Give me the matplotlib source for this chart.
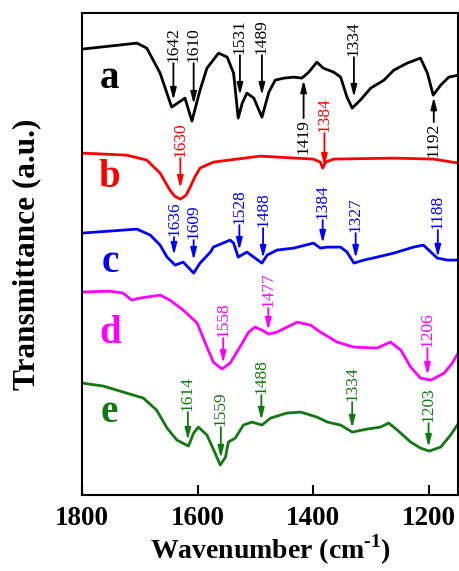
import matplotlib
matplotlib.use("Agg")
import matplotlib.pyplot as plt

plt.rcParams['font.family'] = ['Liberation Serif', 'DejaVu Serif']
plt.rcParams['mathtext.fontset'] = 'custom'
plt.rcParams['mathtext.rm'] = 'Liberation Serif:bold'
plt.rcParams['mathtext.bf'] = 'Liberation Serif:bold'

# wavenumber (cm-1) and transmittance (a.u., curves stacked with offsets)
wn_a = [1800, 1705, 1688, 1665, 1645, 1622, 1610, 1596, 1584, 1564, 1549, 1538, 1530, 1523,
        1515, 1503, 1489, 1477, 1466, 1451, 1434, 1420, 1408, 1394, 1383, 1365, 1353, 1342,
        1333, 1319, 1301, 1278, 1261, 1238, 1215, 1203, 1193, 1180, 1166, 1149]
t_a = [446, 452, 447, 422, 388, 397, 374, 405, 427, 442, 438, 422, 377, 392,
       402, 397, 378, 403, 415, 417, 418, 417, 423, 433, 427, 423, 418, 398,
       387, 395, 407, 415, 425, 432, 437, 422, 400, 410, 418, 420]

wn_b = [1800, 1723, 1688, 1665, 1656, 1648, 1640, 1630, 1620, 1613, 1605, 1596, 1573, 1492,
        1400, 1388, 1384, 1379, 1365, 1261, 1192, 1149]
t_b = [342, 340, 335, 322, 313, 305, 299, 296, 300, 308, 318, 327, 333, 339,
       336, 333, 327, 333, 336, 337, 336, 332]

wn_c = [1800, 1705, 1682, 1665, 1653, 1639, 1625, 1607, 1596, 1578, 1573, 1544, 1538, 1530,
        1515, 1489, 1480, 1463, 1434, 1400, 1388, 1376, 1353, 1342, 1330, 1313, 1290, 1261,
        1227, 1210, 1197, 1186, 1168, 1149]
t_c = [262, 266, 260, 250, 238, 230, 233, 222, 232, 243, 248, 255, 252, 238,
       243, 232, 240, 245, 247, 252, 247, 248, 248, 243, 232, 235, 238, 242,
       248, 250, 243, 237, 235, 235]

wn_d = [1800, 1752, 1729, 1714, 1700, 1665, 1648, 1625, 1601, 1584, 1573, 1558, 1544, 1527,
        1512, 1501, 1489, 1477, 1463, 1428, 1405, 1388, 1359, 1330, 1290, 1267, 1249, 1232,
        1215, 1197, 1174, 1160, 1149]
t_d = [203, 204, 202, 195, 197, 200, 195, 185, 172, 148, 133, 126, 132, 148,
       163, 168, 165, 161, 163, 173, 170, 163, 153, 148, 147, 153, 145, 128,
       117, 115, 122, 132, 143]

wn_e = [1800, 1763, 1723, 1694, 1671, 1653, 1636, 1616, 1607, 1599, 1584, 1570, 1561, 1552,
        1547, 1535, 1521, 1506, 1489, 1474, 1446, 1422, 1394, 1376, 1353, 1333, 1307, 1284,
        1270, 1255, 1232, 1215, 1200, 1180, 1163, 1149]
t_e = [112, 109, 102, 97, 85, 67, 55, 49, 62, 68, 60, 42, 30, 38,
       53, 57, 70, 73, 70, 77, 82, 83, 78, 73, 70, 63, 66, 68,
       72, 65, 53, 47, 44, 48, 60, 72]

curves = [
    ('a', wn_a, t_a, 417),
    ('b', wn_b, t_b, 318),
    ('c', wn_c, t_c, 233),
    ('d', wn_d, t_d, 162),
    ('e', wn_e, t_e, 83),
]
colors = {'a': 'black', 'b': 'red', 'c': 'blue', 'd': 'magenta', 'e': '#127812'}

# peak labels: (text, x, text end, arrow tip, arrow points down?)
peaks = {
    'a': [('1642', 1642, 432, 395, True), ('1610', 1607, 432, 391, True),
          ('1531', 1527, 440, 400, True), ('1489', 1489, 440, 400, True),
          ('1334', 1330, 438, 398, True), ('1419', 1417, 377, 415, False),
          ('1192', 1192, 373, 398, False)],
    'b': [('1630', 1630, 337, 307, True), ('1384', 1381, 362, 329, True)],
    'c': [('1636', 1641, 258, 240, True), ('1609', 1607, 255, 235, True),
          ('1528', 1528, 270, 245, True), ('1488', 1487, 267, 237, True),
          ('1384', 1384, 275, 252, True), ('1327', 1327, 262, 237, True),
          ('1188', 1185, 265, 238, True)],
    'd': [('1558', 1556, 157, 132, True), ('1477', 1478, 187, 165, True),
          ('1206', 1203, 147, 120, True)],
    'e': [('1614', 1617, 83, 55, True), ('1559', 1560, 68, 37, True),
          ('1488', 1490, 100, 75, True), ('1334', 1333, 93, 67, True),
          ('1203', 1201, 72, 48, True)],
}

fig = plt.figure(figsize=(4.59, 5.71), dpi=100)
ax = fig.add_axes([0.1786, 0.133, 0.8194, 0.844])

for name, wn, t, lab_y in curves:
    c = colors[name]
    ax.plot(wn, t, color=c, lw=2)
    ax.text(1752, lab_y, name, color=c, fontsize=28, fontweight='bold',
            ha='center', va='center')
    for txt, x, yt, ytip, down in peaks[name]:
        if down:
            ax.text(x, yt + 1, txt, rotation=90, ha='center', va='bottom',
                    fontsize=12.5, color=c)
        else:
            ax.text(x, yt - 1, txt, rotation=90, ha='center', va='top',
                    fontsize=12.5, color=c)
        ax.annotate('', xy=(x, ytip), xytext=(x, yt),
                    arrowprops=dict(arrowstyle='-|>,head_length=0.7,head_width=0.18',
                                    color=c, lw=1.3, shrinkA=0, shrinkB=0))

ax.set_xlim(1800, 1150)
ax.set_ylim(0, 482)
ax.set_xticks([1800, 1600, 1400, 1200])
ax.set_yticks([])
ax.tick_params(axis='x', direction='in', length=7, width=1.5, labelsize=19.5, pad=8)
for lbl in ax.get_xticklabels():
    lbl.set_fontweight('bold')
for s in ax.spines.values():
    s.set_linewidth(1.5)
ax.set_xlabel('Wavenumber (cm$^{\\text{-1}}$)', fontsize=20, fontweight='bold', labelpad=1)
ax.set_ylabel('Transmittance (a.u.)', fontsize=22.5, fontweight='bold', labelpad=29)

fig.savefig('out.png', dpi=100)
